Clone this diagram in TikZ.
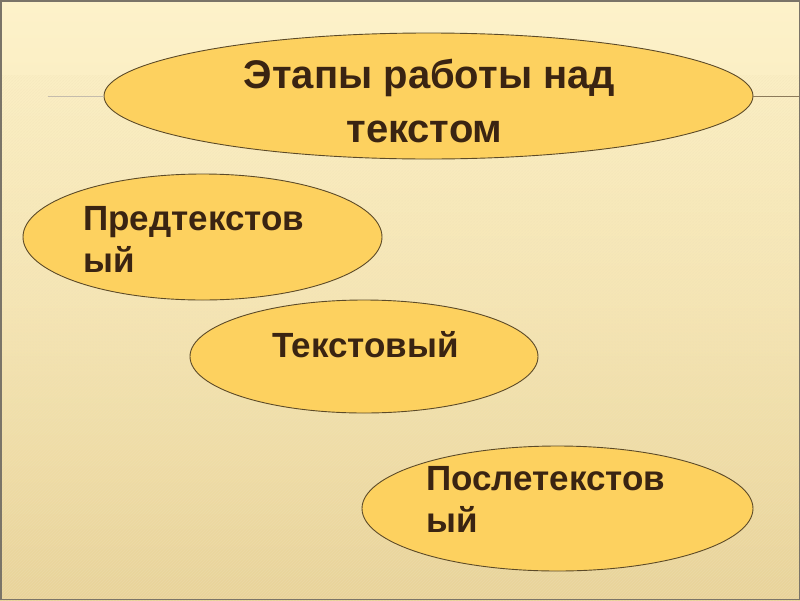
\documentclass[tikz,border=0pt]{standalone}
\usepackage{fontspec}
\setmainfont{Liberation Sans}
\usetikzlibrary{shapes.geometric,patterns}
\definecolor{bgtop}{HTML}{FDF2CA}
\definecolor{bgmid}{HTML}{F6E6B4}
\definecolor{bgbot}{HTML}{E8D39A}
\definecolor{ellfill}{HTML}{FDD15F}
\definecolor{ellline}{HTML}{5C4A28}
\definecolor{txt}{HTML}{3A2412}
\definecolor{deco}{HTML}{8C7A5A}
\definecolor{frame}{HTML}{7A7468}
\begin{document}
\begin{tikzpicture}[x=1pt,y=-1pt,
  stage/.style={ellipse, draw=ellline, line width=0.9pt, fill=ellfill, inner sep=0pt},
  lbl/.style={text=txt, font=\bfseries\fontsize{35}{42}\selectfont, inner sep=0pt},
  headlbl/.style={text=txt, font=\bfseries\fontsize{40}{54}\selectfont, inner sep=0pt},
  decoline/.style={draw=deco, line width=1pt}]
\useasboundingbox (0,0) rectangle (800,600);
\shade[top color=bgtop, bottom color=bgbot, middle color=bgmid] (0,0) rectangle (800,600);
\fill[pattern=north east lines, pattern color=bgbot!70, opacity=0.35] (0,75) rectangle (800,600);
% ellipses
\node[stage, minimum width=649pt, minimum height=126pt] (title) at (428.5,96) {};
\node[stage, minimum width=359pt, minimum height=126pt] (pre) at (202.5,237) {};
\node[stage, minimum width=348pt, minimum height=113pt] (mid) at (364,356.5) {};
\node[stage, minimum width=391pt, minimum height=125pt] (post) at (557.5,508.5) {};
% decorative side lines
\coordinate[xshift=-56pt] (lend) at (title.west);
\coordinate[xshift=50pt] (rend) at (title.east);
\draw[decoline, draw=deco!50] (lend) -- (title.west);
\draw[decoline] (title.east) -- (rend);
% texts
\node[headlbl, anchor=base] (t1) at (429.5,88) {Этапы работы над};
\node[headlbl, anchor=base] (t2) at (424.5,142) {текстом};
\node[lbl, anchor=base west] (p1) at (83,230) {Предтекстов};
\node[lbl, anchor=base west] (p2) at (83,272) {ый};
\node[lbl, anchor=base west] (m1) at (272,357) {Текстовый};
\node[lbl, anchor=base west] (q1) at (426,490) {Послетекстов};
\node[lbl, anchor=base west] (q2) at (426,532) {ый};
% frame
\draw[frame, line width=1.5pt] (0.75,0.75) rectangle (799.25,599.25);
\end{tikzpicture}
\end{document}
